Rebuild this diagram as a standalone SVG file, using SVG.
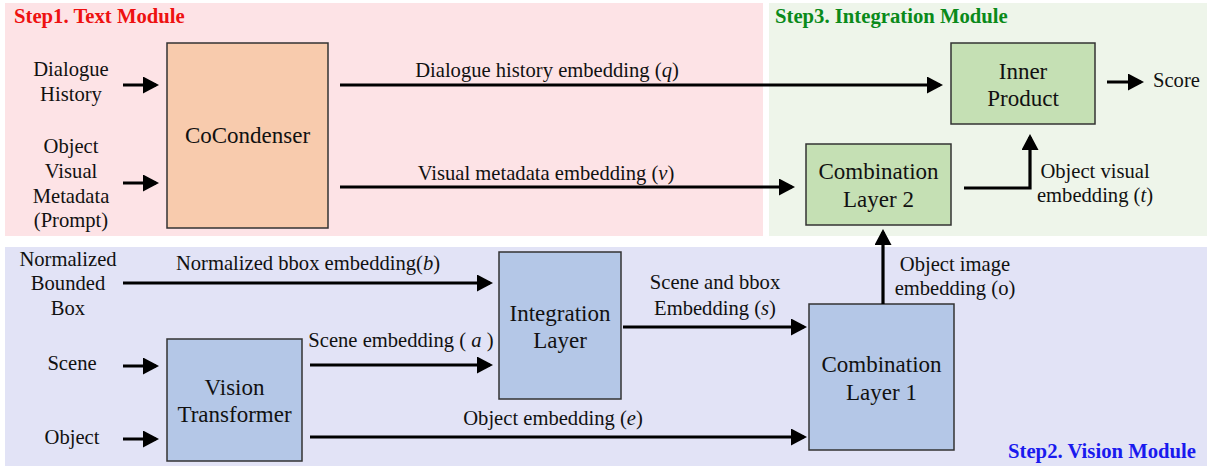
<svg xmlns="http://www.w3.org/2000/svg" width="1212" height="468" viewBox="0 0 1212 468">
<style>
.t{font-family:"Liberation Serif","Times New Roman",serif;font-size:20.6px;fill:#111;}
.n{font-family:"Liberation Serif","Times New Roman",serif;font-size:23px;fill:#111;text-anchor:middle;}
.h{font-family:"Liberation Serif","Times New Roman",serif;font-size:20.7px;font-weight:bold;}
.m{font-style:italic;}
.c{text-anchor:middle;}
.box{stroke:#333;stroke-width:1.5;}
.ln{stroke:#000;stroke-width:3.2;fill:none;marker-end:url(#ah);}
</style>
<defs>
<marker id="ah" markerUnits="userSpaceOnUse" markerWidth="17" markerHeight="17" refX="13" refY="8.5" orient="auto">
<path d="M0,0 L16,8.5 L0,17 z" fill="#000"/>
</marker>
</defs>
<rect width="1212" height="468" fill="#fff"/>
<g id="panels">
<rect x="5" y="3" width="758" height="233" fill="#fde3e6"/>
<rect x="769" y="3" width="438" height="233" fill="#eef5ea"/>
<rect x="5" y="247" width="1202" height="219" fill="#e2e3f6"/>
<text class="h" x="14" y="23" fill="#ee1111">Step1. Text Module</text>
<text class="h" x="775" y="23" fill="#0a8a1a">Step3. Integration Module</text>
<text class="h" x="1196" y="458" fill="#1a1aee" text-anchor="end">Step2. Vision Module</text>
</g>
<g id="inputs">
<text class="t c" x="71" y="76">Dialogue</text>
<text class="t c" x="71" y="101">History</text>
<text class="t c" x="71" y="153">Object</text>
<text class="t c" x="71" y="178">Visual</text>
<text class="t c" x="71" y="203">Metadata</text>
<text class="t c" x="71" y="227">(Prompt)</text>
<text class="t c" x="68" y="266">Normalized</text>
<text class="t c" x="68" y="290">Bounded</text>
<text class="t c" x="68" y="315">Box</text>
<text class="t c" x="72" y="370">Scene</text>
<text class="t c" x="72" y="444">Object</text>
<text class="t" x="1153" y="87">Score</text>
</g>
<g id="cocondenser">
<rect class="box" x="167" y="43" width="161" height="185" fill="#f8cbad"/>
<text class="n" x="247.5" y="143">CoCondenser</text>
</g>
<g id="inner-product">
<rect class="box" x="951" y="43" width="144" height="81" fill="#c5e0b4"/>
<text class="n" x="1023" y="79">Inner</text>
<text class="n" x="1023" y="106">Product</text>
</g>
<g id="combination-layer-2">
<rect class="box" x="806" y="144" width="145" height="81" fill="#c5e0b4"/>
<text class="n" x="878.5" y="179">Combination</text>
<text class="n" x="878.5" y="207">Layer 2</text>
</g>
<g id="integration-layer">
<rect class="box" x="499" y="252" width="122" height="147" fill="#b4c7e7"/>
<text class="n" x="560" y="321">Integration</text>
<text class="n" x="560" y="348">Layer</text>
</g>
<g id="vision-transformer">
<rect class="box" x="167" y="339" width="135" height="122" fill="#b4c7e7"/>
<text class="n" x="234.5" y="395">Vision</text>
<text class="n" x="234.5" y="422">Transformer</text>
</g>
<g id="combination-layer-1">
<rect class="box" x="809" y="304" width="145" height="146" fill="#b4c7e7"/>
<text class="n" x="881.5" y="372">Combination</text>
<text class="n" x="881.5" y="400">Layer 1</text>
</g>
<g id="connectors">
<line class="ln" x1="123" y1="85" x2="156" y2="85"/>
<line class="ln" x1="123" y1="183" x2="156" y2="183"/>
<line class="ln" x1="340" y1="85" x2="940" y2="85"/>
<line class="ln" x1="340" y1="187" x2="792" y2="187"/>
<path class="ln" d="M964,188 H1030 V137"/>
<line class="ln" x1="1107" y1="82" x2="1141" y2="82"/>
<line class="ln" x1="883" y1="304" x2="883" y2="232"/>
<line class="ln" x1="123" y1="283" x2="490" y2="283"/>
<line class="ln" x1="123" y1="366" x2="156" y2="366"/>
<line class="ln" x1="123" y1="439" x2="156" y2="439"/>
<line class="ln" x1="310" y1="365" x2="490" y2="365"/>
<line class="ln" x1="310" y1="437" x2="804" y2="437"/>
<line class="ln" x1="623" y1="327" x2="804" y2="327"/>
<text class="t c" x="547" y="77">Dialogue history embedding (<tspan class="m">q</tspan>)</text>
<text class="t c" x="546" y="180">Visual metadata embedding (<tspan class="m">v</tspan>)</text>
<text class="t c" x="1095" y="178">Object visual</text>
<text class="t c" x="1095" y="202">embedding (<tspan class="m">t</tspan>)</text>
<text class="t c" x="955" y="271">Object image</text>
<text class="t c" x="955" y="295">embedding (o)</text>
<text class="t c" x="308" y="270">Normalized bbox embedding(<tspan class="m">b</tspan>)</text>
<text class="t c" x="401" y="347">Scene embedding ( <tspan class="m">a</tspan> )</text>
<text class="t c" x="553" y="425">Object embedding (<tspan class="m">e</tspan>)</text>
<text class="t c" x="715" y="289">Scene and bbox</text>
<text class="t c" x="715" y="315">Embedding (<tspan class="m">s</tspan>)</text>
</g>
</svg>
